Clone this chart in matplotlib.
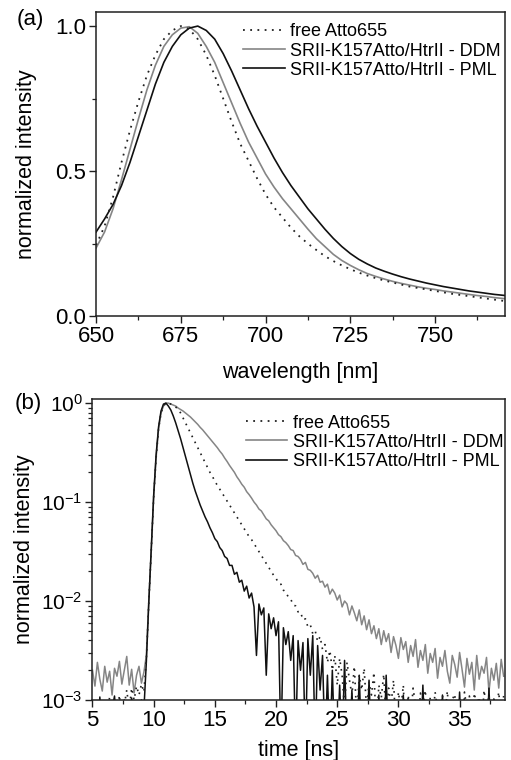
import numpy as np
import matplotlib
matplotlib.use("Agg")
import matplotlib.pyplot as plt
from matplotlib.ticker import MultipleLocator, LogLocator, NullFormatter, FixedLocator
from matplotlib.lines import Line2D

plt.rcParams['font.family'] = ['Liberation Sans', 'DejaVu Sans']
plt.rcParams['mathtext.default'] = 'regular'

# ---------------- panel (a): emission spectra ----------------
wavelength = np.arange(650, 773, 2.5)  # 650 ... 772.5 nm

free_spec = [0.245, 0.31, 0.41, 0.53, 0.64, 0.74, 0.83, 0.9, 0.955, 0.985,
             1.0, 0.99, 0.955, 0.9, 0.83, 0.75, 0.67, 0.595, 0.535, 0.475,
             0.42, 0.375, 0.34, 0.305, 0.275, 0.25, 0.228, 0.207, 0.19, 0.175,
             0.162, 0.15, 0.14, 0.131, 0.123, 0.116, 0.109, 0.102, 0.097, 0.092,
             0.087, 0.082, 0.077, 0.073, 0.069, 0.065, 0.061, 0.057, 0.053, 0.05]

ddm_spec = [0.235, 0.29, 0.37, 0.47, 0.575, 0.68, 0.78, 0.865, 0.93, 0.97,
            0.993, 0.998, 0.975, 0.93, 0.875, 0.805, 0.735, 0.665, 0.6, 0.545,
            0.49, 0.445, 0.405, 0.37, 0.335, 0.3, 0.267, 0.24, 0.213, 0.192,
            0.175, 0.16, 0.147, 0.137, 0.128, 0.12, 0.113, 0.107, 0.101, 0.096,
            0.092, 0.087, 0.083, 0.079, 0.075, 0.071, 0.068, 0.064, 0.061, 0.058]

pml_spec = [0.29, 0.335, 0.385, 0.45, 0.53, 0.62, 0.71, 0.8, 0.875, 0.93,
            0.97, 0.993, 1.0, 0.985, 0.955, 0.905, 0.845, 0.78, 0.715, 0.655,
            0.6, 0.545, 0.495, 0.45, 0.41, 0.37, 0.335, 0.3, 0.268, 0.24,
            0.216, 0.196, 0.18, 0.166, 0.155, 0.145, 0.136, 0.128, 0.121, 0.114,
            0.108, 0.102, 0.097, 0.092, 0.087, 0.083, 0.079, 0.075, 0.072, 0.069]

# ---------------- panel (b): fluorescence decays (log10 of normalized counts) ----------------
time_ns = np.round(np.arange(5.0, 38.7, 0.2), 1)  # 5.0 ... 38.6 ns

free_decay_log = [
    -3.30, -3.10, -3.40, -3.20, -3.05,
    -3.30, -3.15, -2.97, -3.30, -3.10,
    -3.20, -2.95, -3.25, -3.05, -2.90,
    -3.10, -2.88, -3.00, -2.86, -2.95,
    -2.84, -2.92, -2.60, -2.02, -1.50,
    -0.95, -0.55, -0.26, -0.10, -0.03,
    0.00, 0.00, -0.01, -0.02, -0.04,
    -0.06, -0.10, -0.15, -0.20, -0.25,
    -0.30, -0.35, -0.40, -0.45, -0.50,
    -0.55, -0.60, -0.65, -0.70, -0.74,
    -0.79, -0.83, -0.87, -0.91, -0.95,
    -0.99, -1.03, -1.07, -1.11, -1.15,
    -1.19, -1.23, -1.27, -1.31, -1.35,
    -1.38, -1.42, -1.46, -1.50, -1.54,
    -1.58, -1.62, -1.66, -1.70, -1.74,
    -1.77, -1.82, -1.83, -1.89, -1.91,
    -1.96, -1.98, -2.04, -2.05, -2.11,
    -2.11, -2.19, -2.18, -2.26, -2.24,
    -2.33, -2.30, -2.41, -2.36, -2.49,
    -2.44, -2.62, -2.50, -2.70, -2.55,
    -2.85, -2.58, -2.75, -3.10, -2.62,
    -2.80, -2.95, -2.66, -3.20, -2.75,
    -2.90, -2.68, -3.10, -2.82, -2.95,
    -2.72, -3.30, -2.85, -2.98, -2.74,
    -3.20, -2.88, -3.05, -2.80, -3.30,
    -2.92, -3.10, -2.85, -3.40, -2.95,
    -3.20, -2.88, -3.05, -3.30, -2.93,
    -3.10, -2.90, -3.40, -2.97, -3.20,
    -2.92, -3.10, -3.30, -2.95, -3.15,
    -2.91, -3.30, -3.00, -2.94, -3.20,
    -2.98, -3.40, -2.92, -3.10, -2.96,
    -3.30, -2.93, -3.05, -2.97, -3.30,
    -2.90, -3.10, -2.95, -3.25, -2.99,
    -3.10, -2.92, -3.20, -2.96]

ddm_decay_log = [
    -2.70, -2.86, -2.62, -2.79, -2.91,
    -2.66, -2.82, -2.71, -2.95, -2.68,
    -2.76, -2.61, -2.84, -2.70, -2.56,
    -2.85, -2.69, -2.93, -2.75, -2.66,
    -2.83, -2.72, -2.55, -2.00, -1.50,
    -0.95, -0.55, -0.26, -0.10, -0.03,
    0.00, 0.00, -0.01, -0.02, -0.03,
    -0.05, -0.065, -0.08, -0.10, -0.12,
    -0.14, -0.165, -0.19, -0.215, -0.245,
    -0.27, -0.30, -0.33, -0.36, -0.39,
    -0.42, -0.45, -0.485, -0.515, -0.555,
    -0.59, -0.63, -0.665, -0.70, -0.745,
    -0.78, -0.82, -0.85, -0.895, -0.925,
    -0.96, -1.00, -1.03, -1.07, -1.09,
    -1.13, -1.17, -1.19, -1.23, -1.26,
    -1.29, -1.33, -1.35, -1.39, -1.41,
    -1.44, -1.48, -1.49, -1.54, -1.55,
    -1.58, -1.63, -1.61, -1.68, -1.69,
    -1.72, -1.77, -1.74, -1.81, -1.80,
    -1.86, -1.83, -1.93, -1.88, -1.92,
    -1.99, -1.94, -2.06, -2.00, -2.03,
    -2.14, -2.05, -2.12, -2.20, -2.09,
    -2.24, -2.15, -2.29, -2.19, -2.33,
    -2.25, -2.38, -2.28, -2.44, -2.30,
    -2.41, -2.33, -2.52, -2.36, -2.45,
    -2.58, -2.37, -2.49, -2.41, -2.62,
    -2.45, -2.56, -2.39, -2.67, -2.50,
    -2.60, -2.44, -2.73, -2.53, -2.62,
    -2.48, -2.78, -2.57, -2.66, -2.50,
    -2.71, -2.83, -2.55, -2.64, -2.77,
    -2.52, -2.69, -2.87, -2.58, -2.74,
    -2.62, -2.90, -2.55, -2.79, -2.66,
    -2.73, -2.57, -2.92, -2.68, -2.80,
    -2.63, -2.88, -2.59, -2.76]

pml_decay_log = [
    -3.30, -3.10, -3.40, -2.97, -3.30,
    -3.20, -3.05, -3.40, -3.10, -2.96,
    -3.30, -3.10, -3.40, -3.00, -3.20,
    -3.30, -2.98, -3.20, -3.05, -3.30,
    -3.00, -3.10, -2.62, -2.02, -1.48,
    -0.93, -0.52, -0.24, -0.08, -0.01,
    0.00, -0.03, -0.07, -0.13, -0.20,
    -0.28, -0.36, -0.45, -0.54, -0.63,
    -0.72, -0.81, -0.89, -0.96, -1.03,
    -1.09, -1.15, -1.20, -1.26, -1.31,
    -1.37, -1.40, -1.46, -1.49, -1.55,
    -1.57, -1.64, -1.64, -1.73, -1.71,
    -1.81, -1.79, -1.90, -1.85, -1.97,
    -1.92, -2.06, -2.55, -2.03, -2.14,
    -2.07, -2.75, -2.13, -2.28, -2.17,
    -2.35, -2.21, -3.50, -2.27, -2.44,
    -2.31, -2.60, -2.35, -3.50, -2.40,
    -2.70, -2.42, -3.50, -2.38, -2.75,
    -2.35, -3.50, -2.45, -2.90, -2.55,
    -3.50, -2.75, -3.50, -2.70, -3.50,
    -3.50, -2.85, -3.50, -2.60, -3.50,
    -3.50, -2.90, -3.50, -3.50, -2.75,
    -3.50, -3.50, -3.50, -2.80, -3.50,
    -3.50, -3.50, -2.95, -3.50, -3.50,
    -2.75, -3.50, -3.50, -3.50, -3.50,
    -3.50, -3.50, -2.95, -3.50, -3.50,
    -3.50, -3.50, -3.50, -3.50, -3.50,
    -2.85, -3.50, -3.50, -3.50, -3.50,
    -3.50, -3.50, -3.50, -2.95, -3.50,
    -3.50, -3.50, -3.50, -3.50, -3.50,
    -2.92, -3.50, -3.50, -3.50, -3.50,
    -3.50, -3.50, -3.50, -3.50, -3.50,
    -3.50, -3.50, -2.88, -3.50, -3.50,
    -3.50, -3.50, -3.50, -3.50]

labels = ["free Atto655", "SRII-K157Atto/HtrII - DDM", "SRII-K157Atto/HtrII - PML"]

GRAY = '#858585'
BLACK = '#101010'
DOT = '#202020'
dot_style = (0, (1, 3))

fig = plt.figure(figsize=(5.11, 7.6), dpi=100)
axa = fig.add_axes([0.188, 0.584, 0.800, 0.400])
axb = fig.add_axes([0.181, 0.079, 0.807, 0.396])

# panel (a)
axa.plot(wavelength, ddm_spec, color=GRAY, lw=1.2)
axa.plot(wavelength, pml_spec, color=BLACK, lw=1.2)
axa.plot(wavelength, free_spec, color=DOT, lw=1.3, ls=dot_style)
axa.set_xlim(650, 770.6)
axa.set_ylim(0, 1.048)
axa.xaxis.set_major_locator(FixedLocator([650, 675, 700, 725, 750]))
axa.xaxis.set_minor_locator(MultipleLocator(12.5))
axa.yaxis.set_major_locator(FixedLocator([0.0, 0.5, 1.0]))
axa.yaxis.set_minor_locator(MultipleLocator(0.25))
axa.set_yticklabels(['0.0', '0.5', '1.0'])
axa.set_xlabel('wavelength [nm]', fontsize=15.5)
axa.set_ylabel('normalized intensity', fontsize=15.5)
axa.xaxis.set_label_coords(0.5, -0.151)
axa.yaxis.set_label_coords(-0.144, 0.5)

# panel (b)
axb.semilogy(time_ns, 10.0 ** np.array(ddm_decay_log), color=GRAY, lw=1.1)
axb.semilogy(time_ns, 10.0 ** np.array(pml_decay_log), color=BLACK, lw=1.1)
axb.semilogy(time_ns, 10.0 ** np.array(free_decay_log), color=DOT, lw=1.2, ls=dot_style)
axb.set_xlim(5, 38.7)
axb.set_ylim(1e-3, 1.1)
axb.xaxis.set_major_locator(MultipleLocator(5))
axb.xaxis.set_minor_locator(MultipleLocator(2.5))
axb.yaxis.set_major_locator(LogLocator(base=10, numticks=10))
axb.yaxis.set_minor_locator(LogLocator(base=10, subs=np.arange(2, 10), numticks=20))
axb.yaxis.set_minor_formatter(NullFormatter())
axb.set_xlabel('time [ns]', fontsize=15.5)
axb.set_ylabel('normalized intensity', fontsize=15.5)
axb.xaxis.set_label_coords(0.5, -0.133)
axb.yaxis.set_label_coords(-0.14, 0.5)

for ax in (axa, axb):
    for sp in ax.spines.values():
        sp.set_linewidth(1.1)
        sp.set_color('#202020')
    ax.tick_params(which='both', direction='out', top=False, right=False, color='#202020')
    ax.tick_params(which='major', length=5, width=1.0, labelsize=16, pad=2)
    ax.tick_params(which='minor', length=3, width=0.9)
axb.tick_params(axis='y', which='major', labelsize=15)

handles = [Line2D([], [], color=DOT, lw=1.3, ls=dot_style),
           Line2D([], [], color=GRAY, lw=1.2),
           Line2D([], [], color=BLACK, lw=1.2)]
for ax, anchor in ((axa, (0.36, 0.963)), (axb, (0.372, 0.948))):
    ax.legend(handles, labels, loc='upper left', bbox_to_anchor=anchor,
              frameon=False, fontsize=13, borderaxespad=0, borderpad=0,
              handlelength=2.3, handletextpad=0.3, labelspacing=0.12)

fig.text(17 / 511, 1 - 20 / 760, '(a)', fontsize=16, ha='left', va='center')
fig.text(15 / 511, 1 - 403 / 760, '(b)', fontsize=16, ha='left', va='center')

fig.savefig('out.png', dpi=100)
